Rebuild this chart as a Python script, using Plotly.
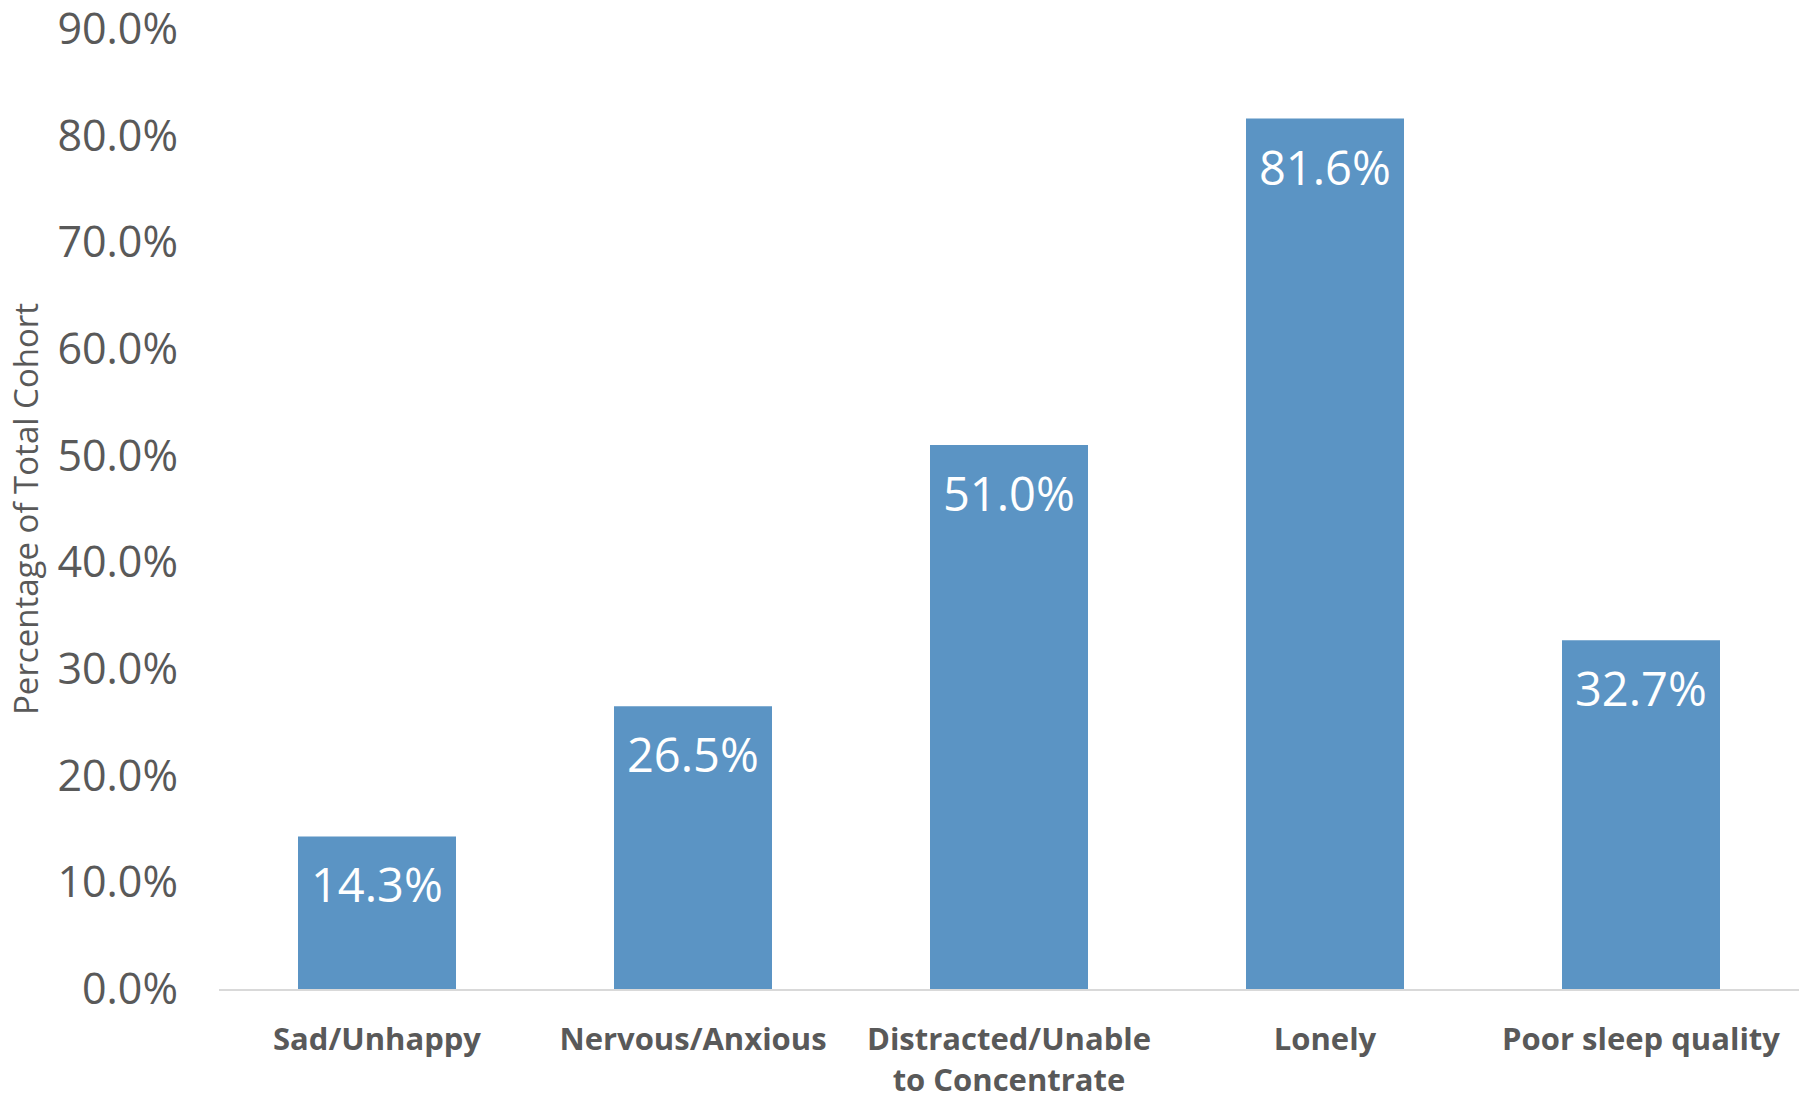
import plotly.graph_objects as go

categories = ["Sad/Unhappy", "Nervous/Anxious", "Distracted/Unable<br>to Concentrate", "Lonely", "Poor sleep quality"]
values = [14.3, 26.5, 51.0, 81.6, 32.7]
tick_vals = [0, 10, 20, 30, 40, 50, 60, 70, 80, 90]
tick_text = ["0.0%", "10.0%", "20.0%", "30.0%", "40.0%", "50.0%", "60.0%", "70.0%", "80.0%", "90.0%"]

FONT = "Open Sans"
GRAY = "#595959"

fig = go.Figure()
fig.add_trace(go.Bar(
    x=categories, y=values,
    marker=dict(color="#5B94C4", line=dict(width=0)),
    hoverinfo="skip",
))

for c, v in zip(categories, values):
    fig.add_annotation(
        x=c, y=v, text=f"{v:.1f}%", showarrow=False,
        yanchor="top", yshift=-14,
        font=dict(family=FONT, size=47, color="white"),
    )

fig.add_annotation(
    xref="paper", yref="paper", x=0, y=0.5, xshift=-194,
    xanchor="center", yanchor="middle", textangle=-90,
    text="Percentage of Total Cohort", showarrow=False,
    font=dict(family=FONT, size=33, color=GRAY),
)

fig.update_layout(
    width=1810, height=1102,
    margin=dict(l=219, r=11, t=29, b=113),
    paper_bgcolor="white", plot_bgcolor="white",
    bargap=0.5,
    showlegend=False,
    font=dict(family=FONT, color=GRAY),
)
fig.update_xaxes(
    showline=True, linecolor="#D9D9D9", linewidth=2,
    showgrid=False, ticks="", automargin=False,
    ticklabelstandoff=22,
    tickfont=dict(family=FONT, size=31, color=GRAY, weight="bold"),
)
fig.update_yaxes(
    range=[0, 90], tickvals=tick_vals, ticktext=tick_text,
    showgrid=False, zeroline=False, showline=False, ticks="",
    automargin=False, ticklabeloverflow="allow",
    ticklabelstandoff=40,
    tickfont=dict(family=FONT, size=43, color=GRAY),
)

fig.write_html("out.html")
